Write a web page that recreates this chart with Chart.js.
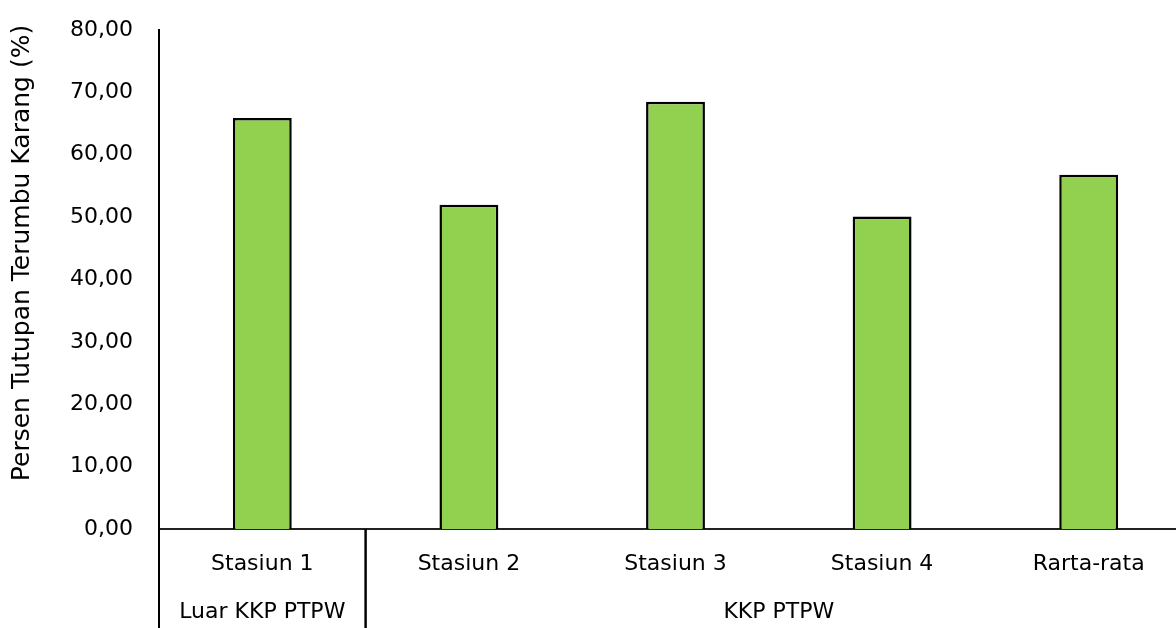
<!DOCTYPE html>
<html lang="id">
  <head>
    <title>Persen Tutupan Terumbu Karang</title>
    <meta charset="UTF-8" />
    <script src="https://cdn.jsdelivr.net/npm/chart.js@4.4.1/dist/chart.umd.min.js"></script>
    <style>
      html, body { margin: 0; padding: 0; background: #fff; overflow: hidden; }
      #wrap { position: relative; width: 1192px; height: 628px; }
    </style>
  </head>
  <body>
    <div id="wrap"><canvas id="grafik"></canvas></div>
    <script>
      // data stasiun
      const stasiun = ['Stasiun 1', 'Stasiun 2', 'Stasiun 3', 'Stasiun 4', 'Rarta-rata'];
      const tutupan = [65.9, 52.0, 68.5, 50.1, 56.8];
      // kelompok kawasan: nama, indeks awal, indeks akhir
      const kawasan = ['Luar KKP PTPW', 'KKP PTPW'];
      const kawasanAwal = [0, 1];
      const kawasanAkhir = [0, 4];
      const sumbuY = { min: 0, max: 80, step: 10 };
      const judulY = 'Persen Tutupan Terumbu Karang (%)';

      const huruf = "'DejaVu Sans', sans-serif";

      // garis pemisah, label kawasan dan judul sumbu y
      const labelKawasan = {
        id: 'labelKawasan',
        afterDraw(chart) {
          const ctx = chart.ctx;
          const x = chart.scales.x;
          const bawah = chart.chartArea.bottom;
          ctx.save();
          ctx.strokeStyle = '#000';
          ctx.lineWidth = 2;
          ctx.fillStyle = '#000';
          ctx.font = '22px ' + huruf;
          ctx.textAlign = 'center';
          ctx.textBaseline = 'middle';
          kawasan.forEach(function (nama, i) {
            const kiri = x.getPixelForValue(kawasanAwal[i] - 0.5);
            const kanan = x.getPixelForValue(kawasanAkhir[i] + 0.5);
            [kiri, kanan].forEach(function (px) {
              ctx.beginPath();
              ctx.moveTo(px, bawah);
              ctx.lineTo(px, chart.height);
              ctx.stroke();
            });
            ctx.fillText(nama, (kiri + kanan) / 2, 612);
          });
          // judul sumbu y, sedikit di atas tengah area plot
          ctx.font = '25px ' + huruf;
          ctx.translate(22, 253);
          ctx.rotate(-Math.PI / 2);
          ctx.fillText(judulY, 0, 0);
          ctx.restore();
        },
      };

      new Chart(document.getElementById('grafik'), {
        type: 'bar',
        data: {
          labels: stasiun,
          datasets: [
            {
              data: tutupan,
              backgroundColor: '#92D050',
              borderColor: '#000',
              borderWidth: 2.5,
              categoryPercentage: 1,
              barPercentage: 0.285,
            },
          ],
        },
        options: {
          responsive: true,
          maintainAspectRatio: false,
          animation: false,
          layout: { padding: { top: 30, right: 0, bottom: 0, left: 0 } },
          plugins: { legend: { display: false }, tooltip: { enabled: false } },
          scales: {
            x: {
              grid: { display: false, drawTicks: false },
              border: { color: '#222', width: 2 },
              ticks: { color: '#000', font: { family: huruf, size: 22 }, padding: 22, maxRotation: 0 },
              afterFit(s) { s.height = 99; s.paddingLeft = 0; s.paddingRight = 0; },
            },
            y: {
              min: sumbuY.min,
              max: sumbuY.max,
              grid: { display: false, drawTicks: false },
              border: { color: '#000', width: 2 },
              ticks: {
                stepSize: sumbuY.step,
                color: '#000',
                padding: 26,
                font: { family: huruf, size: 22 },
                callback: (v) => v.toFixed(2).replace('.', ','),
              },
              afterFit(s) { s.width = 159; s.paddingTop = 0; s.paddingBottom = 0; },
            },
          },
        },
        plugins: [labelKawasan],
      });
    </script>
  </body>
</html>
